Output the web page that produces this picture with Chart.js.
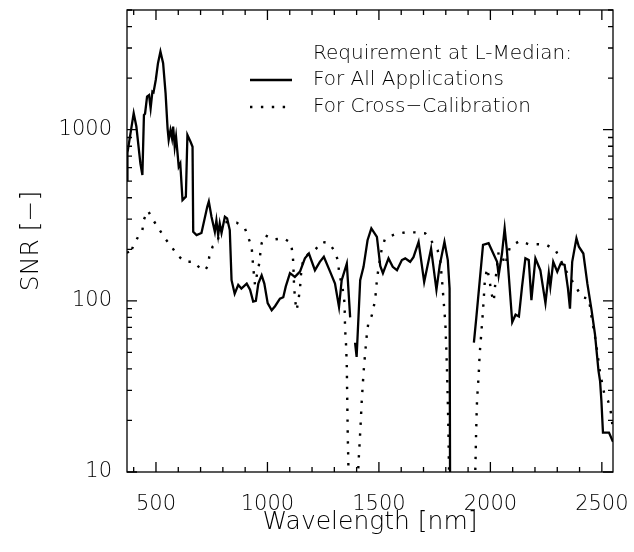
<!DOCTYPE html>
<html>
<head>
<meta charset="utf-8">
<script src="https://cdn.jsdelivr.net/npm/chart.js@4.4.1/dist/chart.umd.min.js"></script>
<style>
  html, body { margin: 0; padding: 0; background: #fff; }
  #wrap { width: 634px; height: 552px; }
</style>
</head>
<body>
<div id="wrap"><canvas id="c" width="634" height="552"></canvas></div>
<script>
// ---- data ----
const xTickLabels = [500, 1000, 1500, 2000, 2500];
const yTickLabels = [10, 100, 1000];
const legendTitle = 'Requirement at L-Median:';
const seriesNames = ['For All Applications', 'For Cross\u2212Calibration'];

const allAppsWl = [370,372,400,412,430,439,446,451,460,469,476,484,489,499,509,520,532,543,552,557,565,572,577,584,590,602,609,619,634,641,655,664,667,682,704,730,737,749,764,771,779,786,794,809,819,831,839,853,869,883,907,922,936,948,959,974,986,1001,1019,1034,1056,1071,1082,1101,1123,1146,1168,1186,1213,1235,1253,1281,1303,1321,1333,1356,1371,1382,1393,1400,1416,1431,1449,1466,1491,1506,1518,1543,1562,1581,1603,1618,1640,1655,1678,1703,1734,1758,1773,1794,1809,1817,1820,1870,1926,1937,1951,1967,1992,2030,2037,2052,2064,2074,2098,2113,2128,2142,2157,2172,2184,2202,2224,2247,2262,2269,2282,2300,2315,2333,2348,2357,2367,2386,2397,2417,2435,2454,2469,2485,2492,2498,2505,2532,2550];
const allAppsSnr = [508,731,1248,1043,635,543,1219,1240,1560,1590,1333,1667,1650,1950,2444,2858,2444,1634,1018,871,995,890,1043,795,910,608,635,388,406,931,850,795,253,242,249,354,380,310,253,295,242,283,249,310,303,259,132,110,124,118,126,116,99,100,126,141,126,97,88,93,103,105,121,145,138,148,177,189,151,169,181,148,126,92,132,165,80,null,57,47,132,158,226,265,236,160,145,177,158,151,173,177,169,180,221,129,202,116,162,221,173,118,3,null,57,80,126,212,217,169,141,189,265,198,75,83,81,121,177,173,101,177,151,97,145,121,169,148,165,162,118,90,169,232,207,189,126,88,64,39,34,26,17,17,15];

const crossCalWl = [372,380,399,420,439,446,464,487,514,540,570,595,630,670,697,719,733,739,754,775,786,794,862,899,914,929,936,944,951,963,966,974,989,1026,1071,1106,1114,1116,1119,1124,1131,1139,1146,1150,1161,1186,1213,1244,1278,1303,1318,1321,1336,1346,1348,1353,1356,1358,1360,1363,1366,1405,1408,1416,1423,1431,1438,1446,1453,1468,1483,1491,1498,1513,1528,1573,1618,1663,1708,1738,1763,1775,1783,1790,1798,1802,1805,1809,1812,1814,1816,1930,1933,1936,1940,1948,1952,1959,1967,1975,1985,1995,2005,2015,2025,2037,2052,2066,2088,2132,2172,2217,2252,2292,2315,2337,2374,2412,2442,2454,2472,2492,2510,2528,2539,2547];
const crossCalSnr = [195,185,210,237,259,299,336,297,262,232,207,185,169,169,155,150,160,181,207,221,248,289,286,265,235,207,158,124,138,165,180,217,242,228,232,218,180,165,126,101,88,101,118,141,177,189,198,221,217,193,169,145,121,97,70,54,41,26,17,11,8,8,11,17,26,38,49,64,75,82,101,132,155,202,232,245,251,251,248,221,198,173,132,101,74,54,41,26,17,11,8,8,11,17,26,38,49,64,88,130,155,135,110,99,140,193,185,162,207,224,214,214,212,198,173,151,126,105,103,80,59,38,29,26,23,19];

const FONT = '"DejaVu Sans", sans-serif';

const framePlugin = {
  id: 'frameTicks',
  afterDatasetsDraw(chart) {
    const ctx = chart.ctx, a = chart.chartArea;
    const xs = chart.scales.x, ys = chart.scales.y;
    ctx.save();
    ctx.strokeStyle = '#000';
    ctx.lineWidth = 1.3;
    ctx.strokeRect(a.left, a.top, a.right - a.left, a.bottom - a.top);
    ctx.beginPath();
    for (let v = 400; v <= 2500; v += 100) {
      const px = xs.getPixelForValue(v);
      const len = (v % 500 === 0) ? 10 : 5;
      ctx.moveTo(px, a.bottom); ctx.lineTo(px, a.bottom - len);
      ctx.moveTo(px, a.top); ctx.lineTo(px, a.top + len);
    }
    for (let d = 10; d <= 1000; d *= 10) {
      for (let k = 1; k <= 9; k++) {
        const v = d * k;
        if (v > 5000) break;
        const py = ys.getPixelForValue(v);
        const len = (k === 1) ? 10 : 5;
        ctx.moveTo(a.left, py); ctx.lineTo(a.left + len, py);
        ctx.moveTo(a.right, py); ctx.lineTo(a.right - len, py);
      }
    }
    ctx.stroke();

    // legend inside the plot
    const ds = chart.data.datasets;
    ctx.fillStyle = '#000';
    ctx.font = '300 20px ' + FONT;
    ctx.textBaseline = 'middle';
    ctx.textAlign = 'left';
    const tx = 313;
    ctx.fillText(legendTitle, tx, 54);
    const rows = [80, 107];
    ds.forEach((d, i) => {
      ctx.beginPath();
      ctx.lineWidth = d.borderWidth;
      ctx.setLineDash(d.borderDash || []);
      ctx.moveTo(250, rows[i]); ctx.lineTo(292, rows[i]);
      ctx.stroke();
      ctx.setLineDash([]);
      ctx.fillText(d.label, tx, rows[i]);
    });
    ctx.restore();
  }
};

const zeroPad = s => { s.paddingLeft = 0; s.paddingRight = 0; s.paddingTop = 0; s.paddingBottom = 0; };

new Chart(document.getElementById('c'), {
  type: 'line',
  data: {
    datasets: [
      {
        label: seriesNames[0],
        data: allAppsWl.map((x, i) => ({ x: x, y: allAppsSnr[i] })),
        borderColor: '#000', borderWidth: 2.3, pointRadius: 0, tension: 0, spanGaps: false
      },
      {
        label: seriesNames[1],
        data: crossCalWl.map((x, i) => ({ x: x, y: crossCalSnr[i] })),
        borderColor: '#000', borderWidth: 2.4, borderDash: [2.4, 8.5], pointRadius: 0, tension: 0, spanGaps: false
      }
    ]
  },
  options: {
    responsive: false,
    animation: false,
    devicePixelRatio: 1,
    layout: { padding: { top: 10, right: 21, left: 0, bottom: 0 } },
    plugins: { legend: { display: false }, tooltip: { enabled: false } },
    scales: {
      x: {
        type: 'linear', min: 370, max: 2550,
        grid: { display: false }, border: { display: false },
        afterBuildTicks: s => { s.ticks = xTickLabels.map(v => ({ value: v })); },
        afterFit: s => { s.height = 80; zeroPad(s); },
        ticks: { color: '#000', font: { family: FONT, size: 21, weight: 300 }, padding: 12, maxRotation: 0, autoSkip: false, callback: v => String(v) },
        title: { display: true, text: 'Wavelength [nm]', color: '#000', font: { family: FONT, size: 25, weight: 300 }, padding: { top: 0, bottom: 15 } }
      },
      y: {
        type: 'logarithmic', min: 10, max: 5000,
        grid: { display: false }, border: { display: false },
        afterBuildTicks: s => { s.ticks = yTickLabels.map(v => ({ value: v })); },
        afterFit: s => { s.width = 127; zeroPad(s); },
        ticks: { color: '#000', font: { family: FONT, size: 21, weight: 300 }, padding: 7, autoSkip: false, callback: v => String(v) },
        title: { display: true, text: 'SNR [\u2212]', color: '#000', font: { family: FONT, size: 25, weight: 300 }, padding: { top: 16, bottom: 0 } }
      }
    }
  },
  plugins: [framePlugin]
});
</script>
</body>
</html>
